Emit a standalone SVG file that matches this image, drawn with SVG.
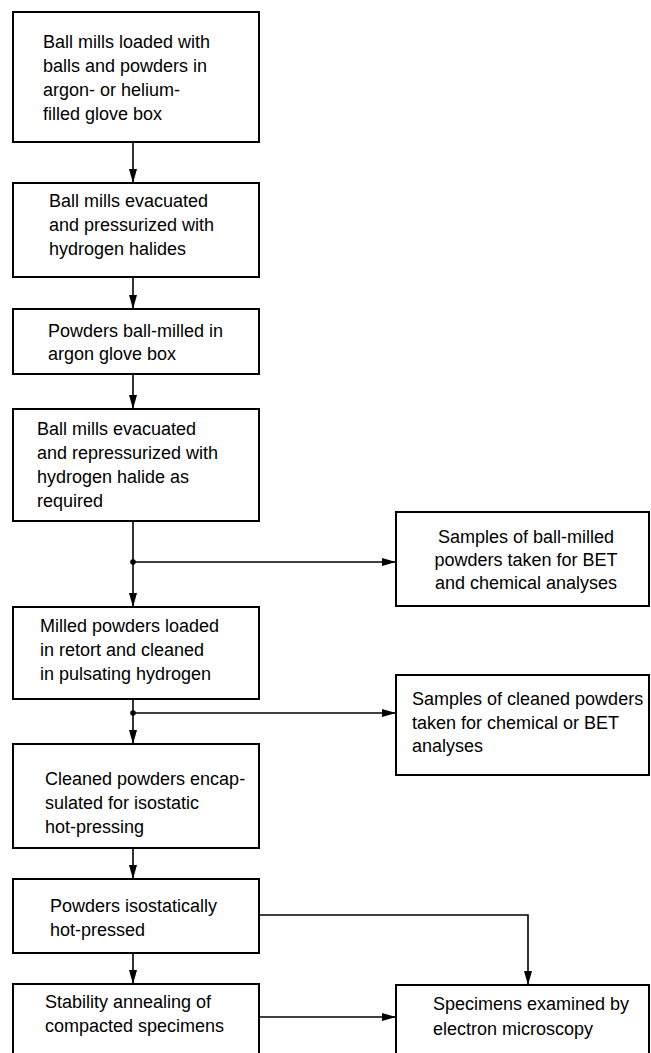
<svg xmlns="http://www.w3.org/2000/svg" width="651" height="1053" viewBox="0 0 651 1053">
<defs>
<style>
.box{fill:#fff;stroke:#000;stroke-width:2}
.t{font-family:"Liberation Sans",Arial,sans-serif;font-size:18px;fill:#000}
.c{fill:none;stroke:#000;stroke-width:1.6}
</style>
<marker id="ah" viewBox="0 0 14 8" refX="14" refY="4" markerWidth="14" markerHeight="8" markerUnits="userSpaceOnUse" orient="auto">
<path d="M0,0 L14,4 L0,8 Z" fill="#000"/>
</marker>
</defs>
<rect width="651" height="1053" fill="#fff"/>
<g id="connectors">
<line class="c" x1="133" y1="142" x2="133" y2="183" marker-end="url(#ah)"/>
<line class="c" x1="133" y1="277" x2="133" y2="309" marker-end="url(#ah)"/>
<line class="c" x1="133" y1="374" x2="133" y2="409" marker-end="url(#ah)"/>
<line class="c" x1="133" y1="521" x2="133" y2="607" marker-end="url(#ah)"/>
<line class="c" x1="133" y1="562" x2="396" y2="562" marker-end="url(#ah)"/>
<circle cx="133" cy="562" r="2.8" fill="#000"/>
<line class="c" x1="133" y1="699" x2="133" y2="744" marker-end="url(#ah)"/>
<line class="c" x1="133" y1="713" x2="396" y2="713" marker-end="url(#ah)"/>
<circle cx="133" cy="713" r="2.8" fill="#000"/>
<line class="c" x1="133" y1="848" x2="133" y2="879" marker-end="url(#ah)"/>
<line class="c" x1="133" y1="953" x2="133" y2="984" marker-end="url(#ah)"/>
<polyline class="c" points="259,915 528,915 528,985" marker-end="url(#ah)"/>
<line class="c" x1="259" y1="1017" x2="396" y2="1017" marker-end="url(#ah)"/>
</g>
<g id="n1">
<rect class="box" x="13" y="12" width="246" height="130"/>
<text class="t" x="43" y="48">Ball mills loaded with</text>
<text class="t" x="43" y="72">balls and powders in</text>
<text class="t" x="43" y="96">argon- or helium-</text>
<text class="t" x="43" y="120">filled glove box</text>
</g>
<g id="n2">
<rect class="box" x="13" y="183" width="246" height="94"/>
<text class="t" x="49" y="207">Ball mills evacuated</text>
<text class="t" x="49" y="231">and pressurized with</text>
<text class="t" x="49" y="255">hydrogen halides</text>
</g>
<g id="n3">
<rect class="box" x="13" y="309" width="246" height="65"/>
<text class="t" x="48" y="337">Powders ball-milled in</text>
<text class="t" x="48" y="360">argon glove box</text>
</g>
<g id="n4">
<rect class="box" x="13" y="409" width="246" height="112"/>
<text class="t" x="37" y="435">Ball mills evacuated</text>
<text class="t" x="37" y="459">and repressurized with</text>
<text class="t" x="37" y="483">hydrogen halide as</text>
<text class="t" x="37" y="507">required</text>
</g>
<g id="n5">
<rect class="box" x="13" y="607" width="246" height="92"/>
<text class="t" x="40" y="632">Milled powders loaded</text>
<text class="t" x="40" y="656">in retort and cleaned</text>
<text class="t" x="40" y="680">in pulsating hydrogen</text>
</g>
<g id="n6">
<rect class="box" x="13" y="744" width="246" height="104"/>
<text class="t" x="45" y="785">Cleaned powders encap-</text>
<text class="t" x="45" y="809">sulated for isostatic</text>
<text class="t" x="45" y="833">hot-pressing</text>
</g>
<g id="n7">
<rect class="box" x="13" y="879" width="246" height="74"/>
<text class="t" x="50" y="912">Powders isostatically</text>
<text class="t" x="50" y="936">hot-pressed</text>
</g>
<g id="n8">
<rect class="box" x="13" y="984" width="246" height="80"/>
<text class="t" x="45" y="1008">Stability annealing of</text>
<text class="t" x="45" y="1032">compacted specimens</text>
</g>
<g id="r1">
<rect class="box" x="396" y="512" width="253" height="94"/>
<text class="t" x="526" y="543" text-anchor="middle">Samples of ball-milled</text>
<text class="t" x="526" y="566" text-anchor="middle">powders taken for BET</text>
<text class="t" x="526" y="589" text-anchor="middle">and chemical analyses</text>
</g>
<g id="r2">
<rect class="box" x="396" y="675" width="253" height="100"/>
<text class="t" x="412" y="705">Samples of cleaned powders</text>
<text class="t" x="412" y="729">taken for chemical or BET</text>
<text class="t" x="412" y="752">analyses</text>
</g>
<g id="r3">
<rect class="box" x="396" y="985" width="253" height="80"/>
<text class="t" x="433" y="1010">Specimens examined by</text>
<text class="t" x="433" y="1035">electron microscopy</text>
</g>
</svg>
